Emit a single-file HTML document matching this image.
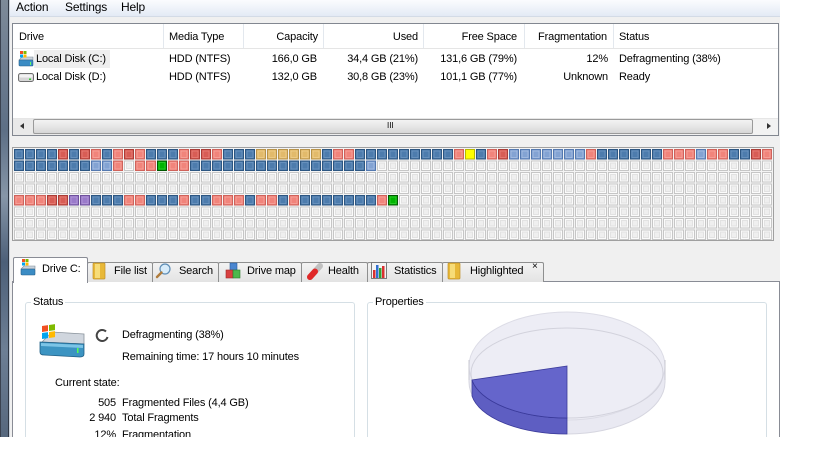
<!DOCTYPE html>
<html><head><meta charset="utf-8">
<style>
*{box-sizing:border-box}
body{margin:0;width:819px;height:460px;position:relative;overflow:hidden;background:#fff;font-family:"Liberation Sans",sans-serif;font-size:11px;color:#000;letter-spacing:-0.15px}
.t{position:absolute;line-height:12px;white-space:nowrap}
.r{text-align:right}
#win{position:absolute;left:0;top:0;width:780px;height:437px;background:#f0f0f0;overflow:hidden}
.ab{position:absolute}
.tab{position:absolute;top:262px;height:20px;border:1px solid #8e8f8f;border-bottom:none;background:linear-gradient(#f3f3f3,#e3e3e3);border-radius:2px 2px 0 0}
.gb{position:absolute;border:1px solid #d5dfe5;border-bottom:none;border-radius:3px 3px 0 0}
.lbl{position:absolute;background:#fff;padding:0 2px;line-height:12px}
</style></head><body>
<div id="win">
  <div class="ab" style="left:0;top:0;width:9px;height:437px;background:linear-gradient(#7d8a99,#5d6f86 30%,#8696a8 45%,#4c5f78 60%,#6d7f95 80%,#56677d);border-left:1px solid #3a4250;border-right:1px solid #2f3744"></div>
  <div class="ab" style="left:9px;top:0;width:1px;height:437px;background:#c9d1db"></div>
  <div class="ab" style="left:10px;top:0;width:770px;height:17px;background:linear-gradient(#fbfcfe,#e3eaf5);border-bottom:1px solid #d3dbe6"></div>
  <span class="t" style="left:16px;top:1px;font-size:12px">Action</span>
  <span class="t" style="left:65px;top:1px;font-size:12px">Settings</span>
  <span class="t" style="left:121px;top:1px;font-size:12px">Help</span>

  <div class="ab" style="left:12px;top:23px;width:767px;height:113px;background:#fff;border:1px solid #828790"></div>
  <div class="ab" style="left:13px;top:48px;width:765px;height:1px;background:#e5e5e5"></div>
  <div class="ab" style="left:163px;top:24px;width:1px;height:24px;background:#e3e8ee"></div>
  <div class="ab" style="left:243px;top:24px;width:1px;height:24px;background:#e3e8ee"></div>
  <div class="ab" style="left:323px;top:24px;width:1px;height:24px;background:#e3e8ee"></div>
  <div class="ab" style="left:423px;top:24px;width:1px;height:24px;background:#e3e8ee"></div>
  <div class="ab" style="left:524px;top:24px;width:1px;height:24px;background:#e3e8ee"></div>
  <div class="ab" style="left:613px;top:24px;width:1px;height:24px;background:#e3e8ee"></div>
  <div class="ab" style="left:34px;top:50px;width:76px;height:18px;background:#eeeeee"></div>

  <span class="t" style="left:19px;top:31px">Drive</span>
  <span class="t" style="left:169px;top:31px">Media Type</span>
  <span class="t r" style="right:462px;top:31px">Capacity</span>
  <span class="t r" style="right:362px;top:31px">Used</span>
  <span class="t r" style="right:263px;top:31px">Free Space</span>
  <span class="t r" style="right:173px;top:31px">Fragmentation</span>
  <span class="t" style="left:619px;top:31px">Status</span>

  <span class="t" style="left:36px;top:53px">Local Disk (C:)</span>
  <span class="t" style="left:169px;top:53px">HDD (NTFS)</span>
  <span class="t r" style="right:463px;top:53px">166,0 GB</span>
  <span class="t r" style="right:362px;top:53px">34,4 GB (21%)</span>
  <span class="t r" style="right:263px;top:53px">131,6 GB (79%)</span>
  <span class="t r" style="right:172px;top:53px">12%</span>
  <span class="t" style="left:619px;top:53px">Defragmenting (38%)</span>

  <span class="t" style="left:36px;top:71px">Local Disk (D:)</span>
  <span class="t" style="left:169px;top:71px">HDD (NTFS)</span>
  <span class="t r" style="right:463px;top:71px">132,0 GB</span>
  <span class="t r" style="right:362px;top:71px">30,8 GB (23%)</span>
  <span class="t r" style="right:263px;top:71px">101,1 GB (77%)</span>
  <span class="t r" style="right:172px;top:71px">Unknown</span>
  <span class="t" style="left:619px;top:71px">Ready</span>

  <div class="ab" style="left:13px;top:118px;width:765px;height:17px;background:linear-gradient(90deg,#e9e9e9,#f2f2f2);border-top:1px solid #e6e6e6"></div>
  <div class="ab" style="left:33px;top:119px;width:720px;height:15px;border:1px solid #9a9a9a;border-radius:2px;background:linear-gradient(#f3f3f3,#e6e6e6 50%,#d6d6d6)"></div>
  <span class="t" style="left:387px;top:120px;font-size:8px;letter-spacing:0">III</span>

  <div class="ab" style="left:12px;top:147px;width:762px;height:94px;border:1px solid #a0a0a0;background:#f4f4f4"></div>

  <div class="ab" style="left:12px;top:281px;width:768px;height:156px;background:#fff;border:1px solid #898c95;border-bottom:none"></div>
  <div class="tab" style="left:87px;width:66px"></div>
  <div class="tab" style="left:152px;width:67px"></div>
  <div class="tab" style="left:218px;width:84px"></div>
  <div class="tab" style="left:301px;width:67px"></div>
  <div class="tab" style="left:367px;width:76px"></div>
  <div class="tab" style="left:442px;width:102px"></div>
  <div class="ab" style="left:13px;top:257px;width:75px;height:26px;background:#fff;border:1px solid #898c95;border-bottom:none;border-radius:2px 2px 0 0"></div>

  <span class="t" style="left:42px;top:263px">Drive C:</span>
  <span class="t" style="left:114px;top:265px">File list</span>
  <span class="t" style="left:179px;top:265px">Search</span>
  <span class="t" style="left:247px;top:265px">Drive map</span>
  <span class="t" style="left:328px;top:265px">Health</span>
  <span class="t" style="left:394px;top:265px">Statistics</span>
  <span class="t" style="left:470px;top:265px">Highlighted</span>
  <span class="t" style="left:532px;top:261px;font-size:10px">×</span>

  <div class="gb" style="left:25px;top:302px;width:330px;height:135px"></div>
  <span class="lbl" style="left:31px;top:296px">Status</span>
  <div class="gb" style="left:367px;top:302px;width:400px;height:135px"></div>
  <span class="lbl" style="left:373px;top:296px">Properties</span>

  <span class="t" style="left:122px;top:329px">Defragmenting (38%)</span>
  <span class="t" style="left:122px;top:351px">Remaining time: 17 hours 10 minutes</span>
  <span class="t" style="left:55px;top:377px">Current state:</span>
  <span class="t r" style="right:664px;top:397px">505</span>
  <span class="t" style="left:122px;top:397px">Fragmented Files (4,4 GB)</span>
  <span class="t r" style="right:664px;top:412px">2 940</span>
  <span class="t" style="left:122px;top:412px">Total Fragments</span>
  <span class="t r" style="right:664px;top:429px;height:8px;overflow:hidden">12%</span>
  <span class="t" style="left:122px;top:429px;height:8px;overflow:hidden">Fragmentation</span>

  <svg class="ab" style="left:0;top:0" width="780" height="437" viewBox="0 0 780 437">
    <defs>
      <pattern id="pe" x="14" y="149" width="11" height="11.5" patternUnits="userSpaceOnUse">
        <rect x="0.5" y="0.5" width="9" height="9.5" fill="#fbfbfb" stroke="#c6c6c6"/>
        <rect x="2.5" y="2.5" width="5" height="5.5" fill="#efefef" stroke="#e2e2e2"/>
      </pattern>
      <g id="B"><rect x="0.5" y="0.5" width="9" height="9.5" fill="#4a78a8" stroke="#2c5682"/><rect x="2" y="2" width="6" height="6.5" fill="#4d7cad" stroke="#6e96c1" stroke-width="0.8"/></g>
      <g id="L"><rect x="0.5" y="0.5" width="9" height="9.5" fill="#7c9dcf" stroke="#5479b0"/><rect x="2" y="2" width="6" height="6.5" fill="#83a3d3" stroke="#a9c0e3" stroke-width="0.8"/></g>
      <g id="R"><rect x="0.5" y="0.5" width="9" height="9.5" fill="#ef7f76" stroke="#cf625a"/><rect x="2" y="2" width="6" height="6.5" fill="#f1847b" stroke="#f7a59e" stroke-width="0.8"/></g>
      <g id="D"><rect x="0.5" y="0.5" width="9" height="9.5" fill="#d5584f" stroke="#aa3c36"/><rect x="2" y="2" width="6" height="6.5" fill="#d85d55" stroke="#e88179" stroke-width="0.8"/></g>
      <g id="T"><rect x="0.5" y="0.5" width="9" height="9.5" fill="#dfb666" stroke="#b8934a"/><rect x="2" y="2" width="6" height="6.5" fill="#e2ba6b" stroke="#efd08e" stroke-width="0.8"/></g>
      <g id="Y"><rect x="0.5" y="0.5" width="9" height="9.5" fill="#ffff00" stroke="#b8b800"/></g>
      <g id="G"><rect x="0.5" y="0.5" width="9" height="9.5" fill="#00a800" stroke="#005800"/><rect x="2" y="2" width="6" height="6.5" fill="#00b400" stroke="#30d030" stroke-width="0.8"/></g>
      <g id="P"><rect x="0.5" y="0.5" width="9" height="9.5" fill="#9675c6" stroke="#6e509c"/><rect x="2" y="2" width="6" height="6.5" fill="#9a7aca" stroke="#b49ad9" stroke-width="0.8"/></g>
    </defs>
    <path d="M24,123 L20,126 L24,129 Z" fill="#333"/>
    <path d="M767,123 L771,126 L767,129 Z" fill="#333"/>

    <rect x="14" y="149" width="759" height="91" fill="url(#pe)"/>
    <g transform="translate(0,149)">
      <use href="#B" x="14"/><use href="#B" x="25"/><use href="#B" x="36"/><use href="#B" x="47"/>
      <use href="#D" x="58"/><use href="#B" x="69"/><use href="#D" x="80"/><use href="#R" x="91"/>
      <use href="#B" x="102"/><use href="#R" x="113"/><use href="#D" x="124"/><use href="#R" x="135"/>
      <use href="#B" x="146"/><use href="#B" x="157"/><use href="#B" x="168"/><use href="#R" x="179"/>
      <use href="#D" x="190"/><use href="#D" x="201"/><use href="#R" x="212"/><use href="#B" x="223"/>
      <use href="#B" x="234"/><use href="#B" x="245"/><use href="#T" x="256"/><use href="#T" x="267"/>
      <use href="#T" x="278"/><use href="#T" x="289"/><use href="#T" x="300"/><use href="#T" x="311"/>
      <use href="#B" x="322"/><use href="#R" x="333"/><use href="#R" x="344"/><use href="#B" x="355"/>
      <use href="#B" x="366"/><use href="#B" x="377"/><use href="#B" x="388"/><use href="#B" x="399"/>
      <use href="#B" x="410"/><use href="#B" x="421"/><use href="#B" x="432"/><use href="#B" x="443"/>
      <use href="#R" x="454"/><use href="#Y" x="465"/><use href="#B" x="476"/><use href="#R" x="487"/>
      <use href="#D" x="498"/><use href="#L" x="509"/><use href="#L" x="520"/><use href="#L" x="531"/>
      <use href="#L" x="542"/><use href="#L" x="553"/><use href="#L" x="564"/><use href="#L" x="575"/>
      <use href="#R" x="586"/><use href="#B" x="597"/><use href="#B" x="608"/><use href="#B" x="619"/>
      <use href="#B" x="630"/><use href="#B" x="641"/><use href="#B" x="652"/><use href="#R" x="663"/>
      <use href="#R" x="674"/><use href="#R" x="685"/><use href="#L" x="696"/><use href="#R" x="707"/>
      <use href="#R" x="718"/><use href="#B" x="729"/><use href="#B" x="740"/><use href="#D" x="751"/>
      <use href="#R" x="762"/>
    </g>
    <g transform="translate(0,160.5)">
      <use href="#B" x="14"/><use href="#B" x="25"/><use href="#B" x="36"/><use href="#B" x="47"/>
      <use href="#B" x="58"/><use href="#B" x="69"/><use href="#B" x="80"/><use href="#L" x="91"/>
      <use href="#L" x="102"/><use href="#R" x="113"/><use href="#R" x="135"/><use href="#R" x="146"/>
      <use href="#G" x="157"/><use href="#R" x="168"/><use href="#R" x="179"/><use href="#B" x="190"/>
      <use href="#B" x="201"/><use href="#B" x="212"/><use href="#B" x="223"/><use href="#B" x="234"/>
      <use href="#B" x="245"/><use href="#B" x="256"/><use href="#B" x="267"/><use href="#B" x="278"/>
      <use href="#B" x="289"/><use href="#B" x="300"/><use href="#B" x="311"/><use href="#B" x="322"/>
      <use href="#B" x="333"/><use href="#B" x="344"/><use href="#B" x="355"/><use href="#L" x="366"/>
    </g>
    <g transform="translate(0,195)">
      <use href="#R" x="14"/><use href="#R" x="25"/><use href="#R" x="36"/><use href="#D" x="47"/>
      <use href="#D" x="58"/><use href="#P" x="69"/><use href="#P" x="80"/><use href="#B" x="91"/>
      <use href="#B" x="102"/><use href="#B" x="113"/><use href="#R" x="124"/><use href="#R" x="135"/>
      <use href="#B" x="146"/><use href="#B" x="157"/><use href="#B" x="168"/><use href="#R" x="179"/>
      <use href="#B" x="190"/><use href="#B" x="201"/><use href="#R" x="212"/><use href="#R" x="223"/>
      <use href="#R" x="234"/><use href="#B" x="245"/><use href="#R" x="256"/><use href="#R" x="267"/>
      <use href="#B" x="278"/><use href="#R" x="289"/><use href="#B" x="300"/><use href="#B" x="311"/>
      <use href="#B" x="322"/><use href="#B" x="333"/><use href="#B" x="344"/><use href="#B" x="355"/>
      <use href="#B" x="366"/><use href="#R" x="377"/><use href="#G" x="388"/>
    </g>

    <g transform="translate(18,51)">
      <path d="M1,9 L4,6 L15,6 L15,9 Z" fill="#c9d2dc" stroke="#7d8a96" stroke-width="0.6"/>
      <rect x="1" y="9" width="14" height="6" rx="1" fill="#3b8cc4" stroke="#245e88" stroke-width="0.6"/>
      <rect x="12" y="11" width="1" height="3" fill="#6f6"/>
      <rect x="2" y="0" width="3" height="3" fill="#f25022"/><rect x="5.5" y="0" width="3" height="3" fill="#7fba00"/>
      <rect x="2" y="3.5" width="3" height="3" fill="#00a4ef"/><rect x="5.5" y="3.5" width="3" height="3" fill="#ffb900"/>
    </g>
    <g transform="translate(18,72)">
      <rect x="0.5" y="1.5" width="15" height="8" rx="2" fill="#d6d6d6" stroke="#6e6e6e"/>
      <rect x="1.5" y="2.5" width="13" height="3" rx="1" fill="#f2f2f2"/>
      <rect x="11" y="6.5" width="2" height="1.5" fill="#37c837"/>
    </g>

    <g transform="translate(20,259)">
      <path d="M1,10 L4,7 L15,7 L15,10 Z" fill="#c9d2dc" stroke="#7d8a96" stroke-width="0.6"/>
      <rect x="1" y="10" width="14" height="6" rx="1" fill="#3b8cc4" stroke="#245e88" stroke-width="0.6"/>
      <rect x="2" y="0" width="3" height="3" fill="#f25022"/><rect x="5.5" y="0" width="3" height="3" fill="#7fba00"/>
      <rect x="2" y="3.5" width="3" height="3" fill="#00a4ef"/><rect x="5.5" y="3.5" width="3" height="3" fill="#ffb900"/>
    </g>
    <g transform="translate(93,262)">
      <rect x="0" y="1" width="12" height="16" rx="1" fill="#e8b838" stroke="#c0902a" stroke-width="0.7"/>
      <rect x="2" y="2" width="5" height="14" fill="#f7dc78"/>
    </g>
    <g transform="translate(156,263)">
      <circle cx="9" cy="6" r="5" fill="#d8ecfa" stroke="#5e8db5" stroke-width="1.2"/>
      <path d="M5.5,9.5 L1,14" stroke="#b07c3c" stroke-width="2.4" stroke-linecap="round"/>
    </g>
    <g transform="translate(226,263)">
      <rect x="4" y="0" width="7" height="7" fill="#4a86d0" stroke="#2b5d9c" stroke-width="0.6"/>
      <rect x="0" y="7" width="7" height="8" fill="#d84040" stroke="#9c2a2a" stroke-width="0.6"/>
      <rect x="7" y="7" width="7" height="8" fill="#4cb84c" stroke="#2a7c2a" stroke-width="0.6"/>
    </g>
    <g transform="translate(307,263)">
      <path d="M3,14 L13,3" stroke="#c0c0c0" stroke-width="6" stroke-linecap="round"/>
      <path d="M3,14 L8,8.5" stroke="#e02828" stroke-width="6" stroke-linecap="round"/>
    </g>
    <g transform="translate(371,262)">
      <rect x="0.5" y="0.5" width="15" height="16" fill="#f4f4f4" stroke="#7a7a7a"/>
      <rect x="2" y="8" width="2.5" height="8" fill="#d83030"/>
      <rect x="5" y="3" width="2.5" height="13" fill="#3070d0"/>
      <rect x="8" y="6" width="2.5" height="10" fill="#30a030"/>
      <rect x="11" y="4" width="2.5" height="12" fill="#d83030"/>
    </g>
    <g transform="translate(448,262)">
      <rect x="0" y="1" width="12" height="16" rx="1" fill="#e8b838" stroke="#c0902a" stroke-width="0.7"/>
      <rect x="2" y="2" width="5" height="14" fill="#f7dc78"/>
    </g>

    <g transform="translate(38,324)">
      <path d="M4,18 L14,8 L46,10 L46,20 Z" fill="#d0d6de" stroke="#8a939c" stroke-width="0.8"/>
      <path d="M2,18 L46,20 L46,30 Q46,33 42,33 L6,31 Q2,31 2,28 Z" fill="#3c94c2" stroke="#1f5f86" stroke-width="0.8"/>
      <path d="M3,19 L45,21 L45,24 L3,22 Z" fill="#7cc4e6"/>
      <rect x="39" y="24" width="1.5" height="5" fill="#5f5"/>
      <g transform="translate(4,2) skewY(-8)">
        <rect x="0" y="0" width="6" height="6" fill="#f25022"/><rect x="7" y="0" width="6" height="6" fill="#7fba00"/>
        <rect x="0" y="7" width="6" height="6" fill="#00a4ef"/><rect x="7" y="7" width="6" height="6" fill="#ffb900"/>
      </g>
    </g>
    <path d="M106,331.5 A5.5,5.5 0 1,0 107.5,337" fill="none" stroke="#444" stroke-width="2"/>

    <path d="M469,366 L469,382 A98,52 0 0,0 665,382 L665,366 Z" fill="#e9e9f2" stroke="#d6d6e0"/>
    <ellipse cx="567" cy="366" rx="98" ry="54" fill="#ededf5" stroke="#dcdce6"/>
    <ellipse cx="567" cy="373" rx="96" ry="45" fill="none" stroke="#d2d2dc"/>
    <line x1="469" y1="360" x2="469" y2="380" stroke="#c8c8d2"/>
    <line x1="665" y1="360" x2="665" y2="380" stroke="#c8c8d2"/>
    <path d="M472,380 A96,45 0 0,0 567,418 L567,434 A96,45 0 0,1 472,396 Z" fill="#5e5ec2" stroke="#3a3a9a" stroke-width="0.8"/>
    <path d="M567,366 L472,380 A96,45 0 0,0 567,418 Z" fill="#6565cb" stroke="#3a3a9a" stroke-width="0.8"/>
  </svg>
</div>
</body></html>
